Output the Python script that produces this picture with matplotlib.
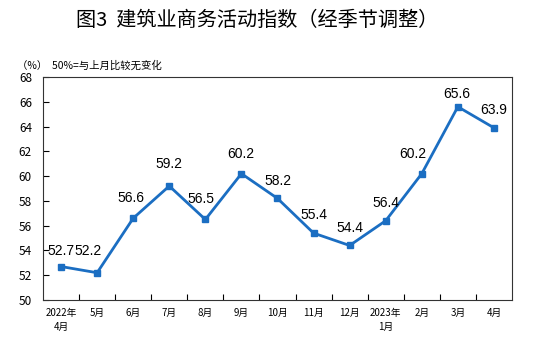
import matplotlib.pyplot as plt

plt.rcParams['font.family'] = ['Noto Sans CJK SC', 'DejaVu Sans']

# x labels and index values
months = ["2022年\n4月", "5月", "6月", "7月", "8月", "9月", "10月", "11月", "12月",
          "2023年\n1月", "2月", "3月", "4月"]
values = [52.7, 52.2, 56.6, 59.2, 56.5, 60.2, 58.2, 55.4, 54.4, 56.4, 60.2, 65.6, 63.9]

# label nudges in pixels (dx, dy) so they sit like the original
label_offsets = [(0, 16), (-9, 22), (-2, 20), (0, 22), (-4, 20), (-1, 20), (1, 17),
                 (0, 18), (0, 17), (0, 18), (-9, 20), (-1, 13), (0, 18)]

fig = plt.figure(figsize=(5.53, 3.43), dpi=100)
ax = fig.add_axes([0.0778, 0.1254, 0.848, 0.650])

x = list(range(len(values)))
ax.plot(x, values, color='#1b6ec2', linewidth=2, marker='s', markersize=4)

# data labels
for i, v in enumerate(values):
    dx, dy = label_offsets[i]
    ax.annotate(f"{v}", (i, v), xytext=(dx * 0.72, dy * 0.72), textcoords='offset points',
                ha='center', va='center', fontsize=10, family=['Liberation Sans'])

ax.set_xlim(-0.5, len(values) - 0.5)
ax.set_ylim(50, 68)
ax.set_yticks(range(50, 69, 2))
ax.set_xticks([i + 0.5 for i in range(len(values) - 1)])
ax.set_xticklabels([])
ax.set_xticks(x, minor=True)
ax.set_xticklabels(months, minor=True, fontsize=7, linespacing=1.5, va='top')
ax.tick_params(axis='x', which='major', direction='in', length=4)
ax.tick_params(axis='x', which='minor', length=0, pad=6)
ax.tick_params(axis='y', direction='in', length=4, labelsize=8.5, pad=8)
for s in ax.spines.values():
    s.set_color('#333333')

fig.text(0.465, 0.94, "图3  建筑业商务活动指数（经季节调整）", ha='center', va='center',
         fontsize=14.5, fontweight='medium')
fig.text(0.03, 0.81, "（%）  50%=与上月比较无变化", ha='left', va='center', fontsize=7.5)

fig.savefig("out.png", dpi=100)
